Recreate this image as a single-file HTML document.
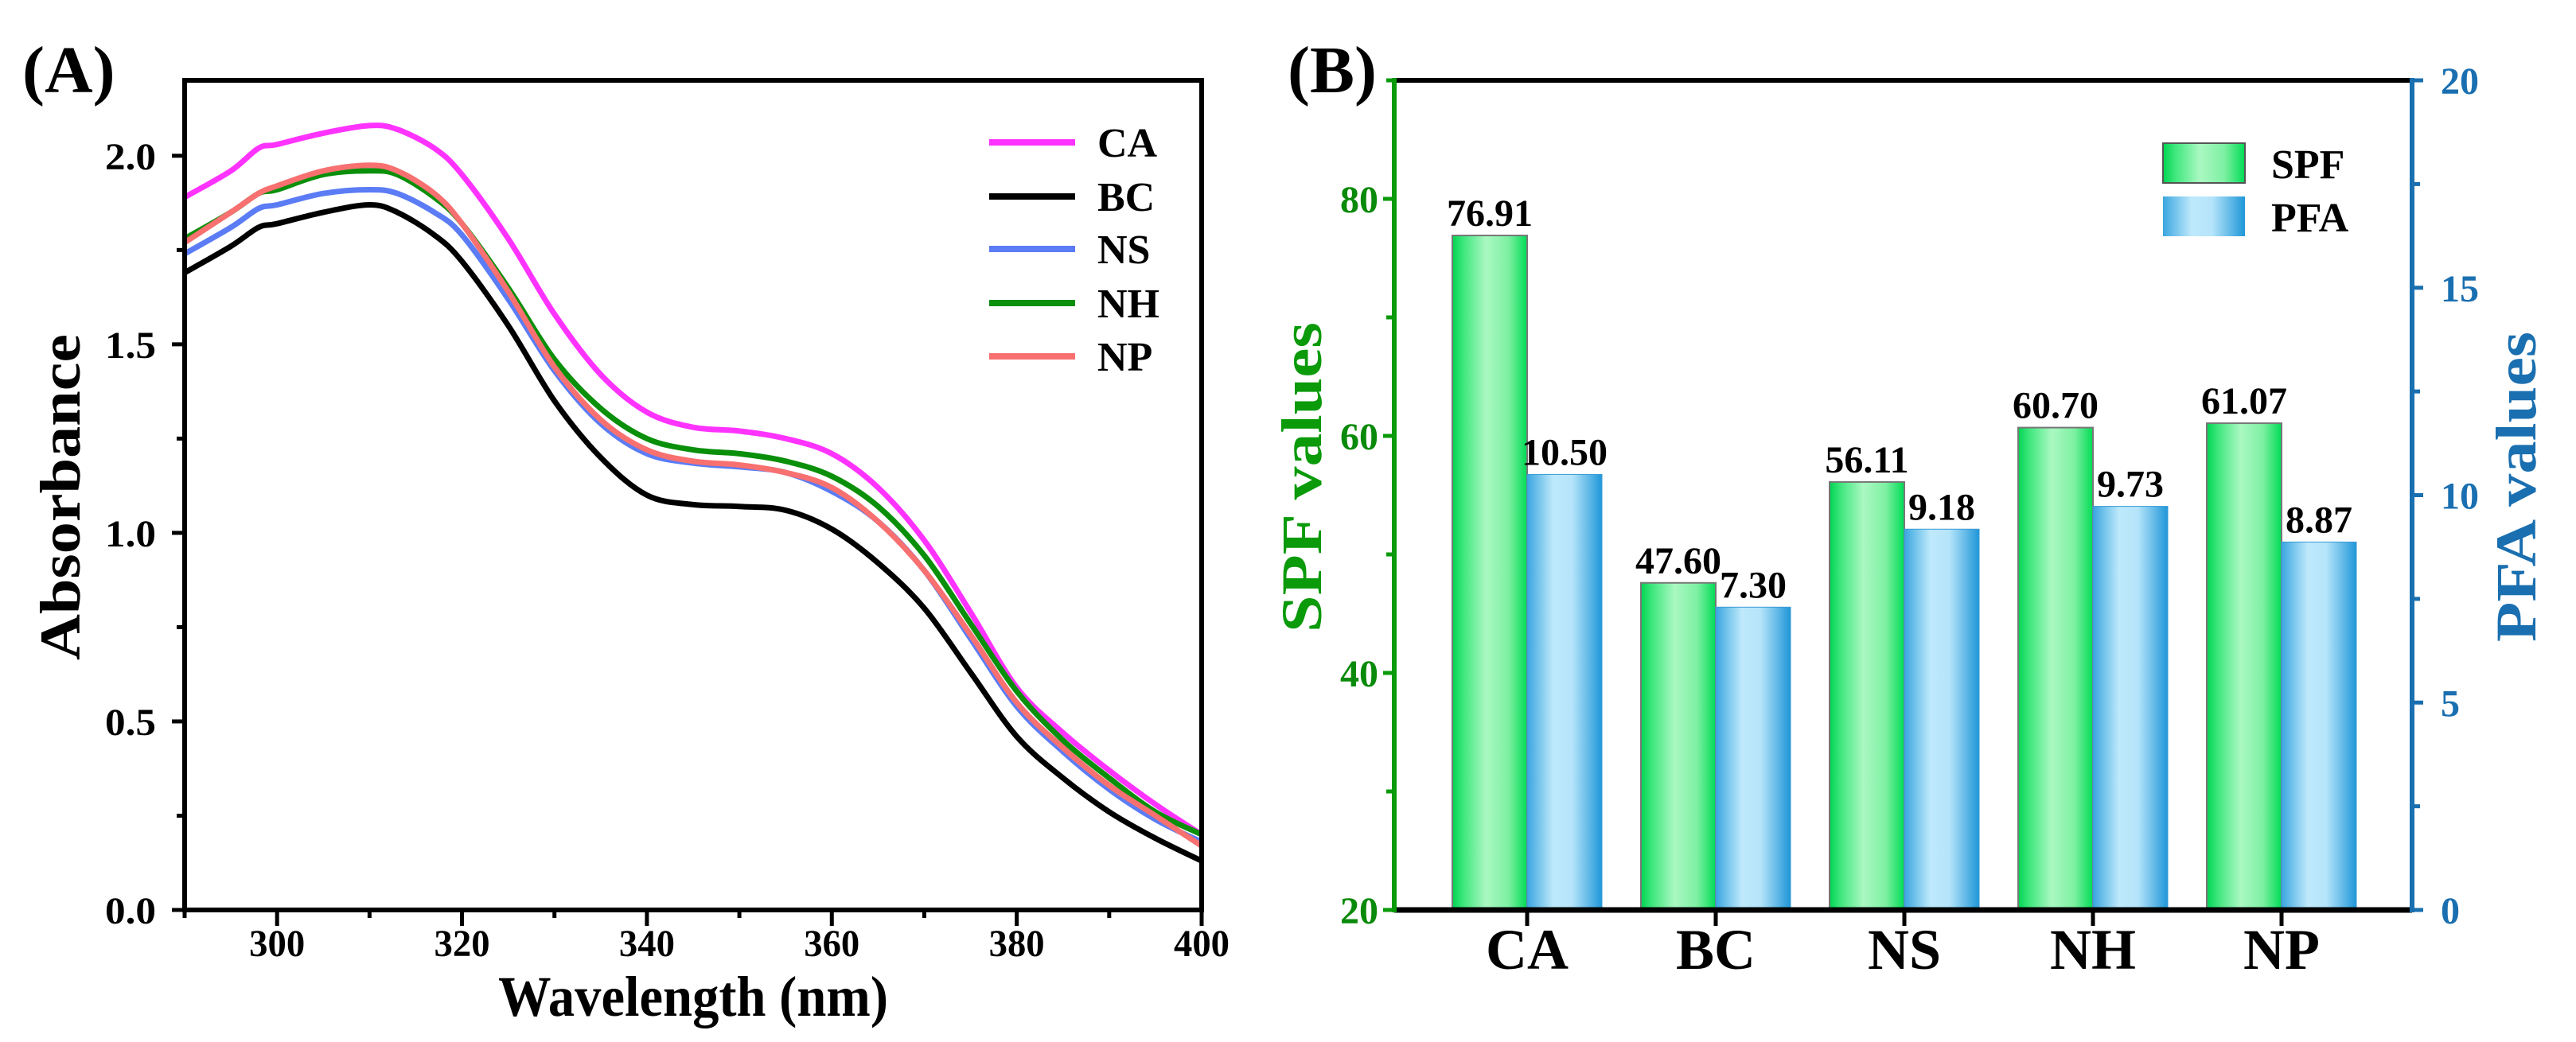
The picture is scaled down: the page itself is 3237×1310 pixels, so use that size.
<!DOCTYPE html>
<html><head><meta charset="utf-8"><style>
html,body{margin:0;padding:0;background:#fff}
svg{display:block}
text{font-family:"Liberation Serif",serif;font-weight:bold}
</style></head><body>
<svg id="fig" width="3237" height="1310" viewBox="0 0 3237 1310" xmlns="http://www.w3.org/2000/svg">
<defs>
<linearGradient id="gG" x1="0" x2="1" y1="0" y2="0">
<stop offset="0" stop-color="#00d452"/><stop offset="0.15" stop-color="#3fe77d"/><stop offset="0.45" stop-color="#aaf8c2"/><stop offset="0.75" stop-color="#7ef0a2"/><stop offset="1" stop-color="#00dc55"/>
</linearGradient>
<linearGradient id="gB" x1="0" x2="1" y1="0" y2="0">
<stop offset="0" stop-color="#3aa6e0"/><stop offset="0.35" stop-color="#bfe9fb"/><stop offset="0.6" stop-color="#b5e4fa"/><stop offset="1" stop-color="#1f97d8"/>
</linearGradient>
</defs>
<g id="pa"></g>
<g id="pb"></g>
</svg>
<script>
const wl=[290,295,298,300,305,310,313,317,320,325,330,335,340,345,350,355,360,365,370,375,380,385,390,395,400];
const seriesNames=["CA","BC","NS","NH","NP"];
const seriesColors=["#ff33ff","#000000","#5b7cf5","#0a8f0a","#f87070"];
const CA=[1.89,1.96,2.02,2.03,2.06,2.08,2.07,2.02,1.95,1.78,1.58,1.42,1.32,1.28,1.27,1.25,1.21,1.12,0.98,0.79,0.59,0.47,0.37,0.28,0.20];
const BC=[1.69,1.76,1.81,1.82,1.85,1.87,1.85,1.79,1.72,1.55,1.35,1.20,1.10,1.075,1.07,1.06,1.01,0.92,0.80,0.63,0.46,0.35,0.26,0.19,0.13];
const NS=[1.74,1.81,1.86,1.87,1.90,1.91,1.90,1.85,1.79,1.62,1.43,1.29,1.21,1.185,1.175,1.16,1.11,1.03,0.90,0.72,0.54,0.42,0.32,0.24,0.18];
const NH=[1.78,1.85,1.90,1.91,1.95,1.96,1.95,1.89,1.82,1.65,1.46,1.33,1.25,1.22,1.21,1.19,1.15,1.07,0.94,0.76,0.58,0.45,0.35,0.26,0.20];
const NP=[1.77,1.85,1.90,1.92,1.96,1.975,1.96,1.90,1.82,1.64,1.44,1.30,1.22,1.19,1.18,1.16,1.12,1.03,0.90,0.73,0.55,0.43,0.33,0.25,0.17];
const xTicksA=[300,320,340,360,380,400];
const yTicksA=["0.0","0.5","1.0","1.5","2.0"];
const cats=["CA","BC","NS","NH","NP"];
const SPF=[76.91,47.60,56.11,60.70,61.07];
const PFA=[10.50,7.30,9.18,9.73,8.87];
const spfLabels=["76.91","47.60","56.11","60.70","61.07"];
const pfaLabels=["10.50","7.30","9.18","9.73","8.87"];
const yTicksL=[20,40,60,80];
const yTicksR=[0,5,10,15,20];

const NS_="http://www.w3.org/2000/svg";
function mk(p,t,a,txt){const e=document.createElementNS(NS_,t);for(const k in a)e.setAttribute(k,a[k]);if(txt!==undefined)e.textContent=txt;p.appendChild(e);return e;}
function smooth(pts){let d='M'+pts[0][0].toFixed(1)+' '+pts[0][1].toFixed(1);
 for(let i=0;i<pts.length-1;i++){const p0=pts[Math.max(0,i-1)],p1=pts[i],p2=pts[i+1],p3=pts[Math.min(pts.length-1,i+2)];
  const c1=[p1[0]+(p2[0]-p0[0])/6,p1[1]+(p2[1]-p0[1])/6],c2=[p2[0]-(p3[0]-p1[0])/6,p2[1]-(p3[1]-p1[1])/6];
  d+=' C'+c1[0].toFixed(1)+' '+c1[1].toFixed(1)+' '+c2[0].toFixed(1)+' '+c2[1].toFixed(1)+' '+p2[0].toFixed(1)+' '+p2[1].toFixed(1);}
 return d;}
const pa=document.getElementById('pa'),pb=document.getElementById('pb');
// Panel A
const AL=232,AR=1510,AT=101,AB=1144;
const ax=v=>AL+(v-290)/(400-290)*(AR-AL);
const ay=v=>AB-(v/2.2)*(AB-AT);
let e=mk(pa,'text',{x:28,y:116,'font-size':84},'(A)');

const all=[CA,BC,NS,NH,NP];
all.forEach((s,i)=>{
 const d=smooth(s.map((v,j)=>[ax(wl[j]),ay(v)]));
 const p=mk(pa,'path',{d:d,fill:'none',stroke:seriesColors[i],'stroke-width':7,'stroke-linejoin':'round'});
 
});
e=mk(pa,'rect',{x:AL,y:AT,width:AR-AL,height:AB-AT,fill:'none',stroke:'#000','stroke-width':6});

for(let v=290;v<=400;v+=10){const x=ax(v);const major=(v%20===0);mk(pa,'line',{x1:x,x2:x,y1:AB,y2:AB+(major?20:10),stroke:'#000','stroke-width':5});}
xTicksA.forEach(v=>{const t=mk(pa,'text',{x:ax(v),y:AB+58,'font-size':48,'text-anchor':'middle',textLength:70,lengthAdjust:'spacingAndGlyphs'},String(v));});
for(let k=0;k<=8;k++){const v=k*0.25;const y=ay(v);mk(pa,'line',{x1:AL,x2:AL-(k%2?10:16),y1:y,y2:y,stroke:'#000','stroke-width':5});}
yTicksA.forEach(s=>{const t=mk(pa,'text',{x:AL-36,y:ay(parseFloat(s))+17,'font-size':48,'text-anchor':'end',textLength:64,lengthAdjust:'spacingAndGlyphs'},s);});
e=mk(pa,'text',{x:(AL+AR)/2,y:1277,'font-size':72,'text-anchor':'middle',textLength:490,lengthAdjust:'spacingAndGlyphs'},'Wavelength (nm)');

e=mk(pa,'text',{x:0,y:0,'font-size':72,'text-anchor':'middle',textLength:410,lengthAdjust:'spacingAndGlyphs',transform:'translate(100,625) rotate(-90)'},'Absorbance');

const legY=[179,247,313,381,448];
seriesNames.forEach((n,i)=>{
 const g=mk(pa,'g',{});
 mk(g,'line',{x1:1243,x2:1351,y1:legY[i],y2:legY[i],stroke:seriesColors[i],'stroke-width':8});
 mk(g,'text',{x:1379,y:legY[i]+18,'font-size':52},n);
});
// Panel B
const BL=1752,BR=3031,BT=101,BB=1144;
const byL=v=>BB-(v-20)/70*(BB-BT);
const byR=v=>BB-v/20*(BB-BT);
const cx=i=>1919+i*237;
const BW=94;
e=mk(pb,'text',{x:1618,y:116,'font-size':84},'(B)');

cats.forEach((c,i)=>{
 let r=mk(pb,'rect',{x:cx(i)-BW,y:byL(SPF[i]),width:BW,height:BB-byL(SPF[i]),fill:'url(#gG)',stroke:'#777','stroke-width':2});
 
 r=mk(pb,'rect',{x:cx(i),y:byR(PFA[i]),width:BW,height:BB-byR(PFA[i]),fill:'url(#gB)',stroke:'#3a9ad6','stroke-width':1});
 
 let t=mk(pb,'text',{x:cx(i)-BW/2,y:byL(SPF[i])-12,'font-size':48,'text-anchor':'middle'},spfLabels[i]);
 
 t=mk(pb,'text',{x:cx(i)+BW/2,y:byR(PFA[i])-12,'font-size':48,'text-anchor':'middle'},pfaLabels[i]);
 
 mk(pb,'line',{x1:cx(i),x2:cx(i),y1:BB,y2:BB+20,stroke:'#000','stroke-width':5});
 t=mk(pb,'text',{x:cx(i),y:1218,'font-size':72,'text-anchor':'middle'},c);
 
});
mk(pb,'line',{x1:BL,x2:BR,y1:BT,y2:BT,stroke:'#000','stroke-width':6});
mk(pb,'line',{x1:BL,x2:BR,y1:BB,y2:BB,stroke:'#000','stroke-width':7});
e=mk(pb,'line',{x1:BL,x2:BL,y1:BT-3,y2:BB+3,stroke:'#0a9a0a','stroke-width':6});

e=mk(pb,'line',{x1:BR,x2:BR,y1:BT-3,y2:BB+3,stroke:'#1a6fb0','stroke-width':6});

for(let v=20;v<=90;v+=10){const y=byL(v);mk(pb,'line',{x1:BL,x2:BL-(v%20===0?14:10),y1:y,y2:y,stroke:'#0a9a0a','stroke-width':5});}
yTicksL.forEach(v=>{const t=mk(pb,'text',{x:BL-20,y:byL(v)+17,'font-size':48,'text-anchor':'end',fill:'#0a8a0a'},String(v));});
for(let v=0;v<=20;v+=2.5){const y=byR(v);mk(pb,'line',{x1:BR,x2:BR+(v%5===0?14:10),y1:y,y2:y,stroke:'#1a6fb0','stroke-width':5});}
yTicksR.forEach(v=>{const t=mk(pb,'text',{x:BR+36,y:byR(v)+17,'font-size':48,'text-anchor':'start',fill:'#1a6fb0'},String(v));});
e=mk(pb,'text',{x:0,y:0,'font-size':72,'text-anchor':'middle',fill:'#0a9a0a',textLength:390,lengthAdjust:'spacingAndGlyphs',transform:'translate(1660,600) rotate(-90)'},'SPF values');

e=mk(pb,'text',{x:0,y:0,'font-size':72,'text-anchor':'middle',fill:'#1a6fb0',textLength:390,lengthAdjust:'spacingAndGlyphs',transform:'translate(3186,612) rotate(-90)'},'PFA values');

let lg=mk(pb,'g',{});
mk(lg,'rect',{x:2718,y:180,width:103,height:50,fill:'url(#gG)',stroke:'#555','stroke-width':2});
mk(lg,'text',{x:2854,y:224,'font-size':52},'SPF');
lg=mk(pb,'g',{});
mk(lg,'rect',{x:2718,y:247,width:103,height:50,fill:'url(#gB)'});
mk(lg,'text',{x:2854,y:291,'font-size':52},'PFA');
</script>
</body></html>
